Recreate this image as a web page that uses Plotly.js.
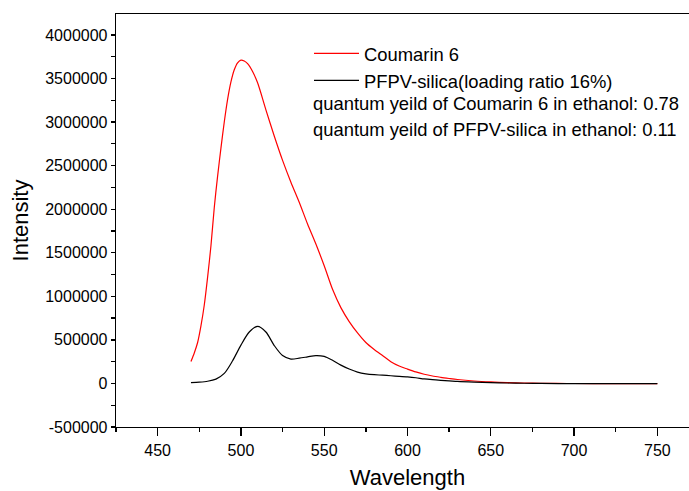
<!DOCTYPE html>
<html>
<head>
<meta charset="utf-8">
<script src="https://cdn.plot.ly/plotly-3.0.1.min.js"></script>
<style>
html, body { margin: 0; padding: 0; overflow: hidden; background: #fff; }
#chart { width: 720px; height: 491px; }
</style>
</head>
<body>
<div id="chart"></div>
<script>
// Wavelength grid (nm)
const wavelengthRed = [470,472,474,476,478,480,482,484,486,488,490,492,494,496,498,500,502,504,507,510,515,520,525,530,535,540,545,550,555,560,565,570,575,580,585,590,595,600,605,610,615,620,625,630,640,650,660,670,680,690,700,720,750];
const coumarin6 = [252000,350000,470000,660000,900000,1220000,1580000,2020000,2380000,2700000,3000000,3260000,3460000,3600000,3680000,3710000,3700000,3670000,3580000,3450000,3140000,2840000,2560000,2310000,2080000,1830000,1600000,1350000,1080000,870000,710000,580000,470000,390000,320000,250000,200000,165000,132000,105000,85000,70000,57000,45000,28000,17000,10000,5000,2000,0,-1000,-2000,-3000];

const wavelengthBlack = [470,475,480,485,490,495,500,505,510,515,520,525,530,535,540,545,550,555,560,565,570,575,580,585,590,595,600,605,610,615,620,625,630,640,650,660,670,680,700,720,750];
const pfpvSilica = [10000,15000,25000,50000,115000,260000,440000,590000,655000,590000,435000,320000,280000,290000,305000,320000,310000,265000,210000,165000,130000,110000,100000,95000,88000,82000,75000,65000,52000,43000,36000,30000,23000,15000,9000,5000,2000,0,-2000,-2500,-3000];

const seriesNames = ["Coumarin 6", "PFPV-silica(loading ratio 16%)"];
const noteLines = [
  "quantum yeild of Coumarin 6 in ethanol: 0.78",
  "quantum yeild of PFPV-silica in ethanol: 0.11"
];
const xTickVals = [450,500,550,600,650,700,750];
const yTickVals = [-500000,0,500000,1000000,1500000,2000000,2500000,3000000,3500000,4000000];

const FONT = "Liberation Sans, Arial, Helvetica, sans-serif";

const traces = [
  {x: wavelengthRed, y: coumarin6, name: seriesNames[0], type: "scatter", mode: "lines",
   line: {color: "#ff0000", width: 1.2, shape: "spline", smoothing: 0.8}},
  {x: wavelengthBlack, y: pfpvSilica, name: seriesNames[1], type: "scatter", mode: "lines",
   line: {color: "#000000", width: 1.2, shape: "spline", smoothing: 0.8}}
];

const L = 116, R = 699, T = 14, B = 427.5;
const pw = R - L, ph = B - T;
function px2x(p) { return (p - L) / pw; }
function px2y(p) { return (B - p) / ph; }

const layout = {
  width: 720, height: 491,
  margin: {l: L, r: 720 - R, t: T, b: 491 - B},
  paper_bgcolor: "#ffffff", plot_bgcolor: "#ffffff",
  font: {family: FONT, color: "#000000", size: 16},
  showlegend: true,
  legend: {
    x: px2x(309), y: px2y(35), xanchor: "left", yanchor: "top",
    bgcolor: "rgba(0,0,0,0)", borderwidth: 0, itemwidth: 45,
    font: {family: FONT, size: 18.4, color: "#000000"},
    tracegroupgap: 0
  },
  xaxis: {
    range: [425, 775], tickvals: xTickVals, ticktext: xTickVals.map(String),
    showgrid: false, zeroline: false,
    showline: true, linecolor: "#000000", linewidth: 1.3, mirror: true,
    ticks: "outside", ticklen: 8, tickwidth: 1.3, tickcolor: "#000000",
    minor: {dtick: 25, tick0: 425, ticks: "outside", ticklen: 4, tickwidth: 1.3, tickcolor: "#000000", showgrid: false},
    tickfont: {family: FONT, size: 16, color: "#000000"},
    title: {text: "Wavelength", font: {family: FONT, size: 22, color: "#000000"}, standoff: 12},
    automargin: false
  },
  yaxis: {
    range: [-500000, 4240000], tickvals: yTickVals, ticktext: yTickVals.map(String),
    showgrid: false, zeroline: false,
    showline: true, linecolor: "#000000", linewidth: 1.3, mirror: false,
    ticks: "outside", ticklen: 4, tickwidth: 1.3, tickcolor: "#000000",
    minor: {dtick: 250000, tick0: 0, ticks: "outside", ticklen: 4, tickwidth: 1.3, tickcolor: "#000000", showgrid: false},
    tickfont: {family: FONT, size: 16, color: "#000000"},
    title: {text: "Intensity", font: {family: FONT, size: 22, color: "#000000"}, standoff: 10},
    automargin: false
  },
  annotations: noteLines.map((t, i) => ({
    text: t, xref: "paper", yref: "paper",
    x: px2x(311), y: px2y(104 + i * 25.5), xanchor: "left", yanchor: "middle",
    showarrow: false, font: {family: FONT, size: 18.4, color: "#000000"}
  }))
};

Plotly.newPlot("chart", traces, layout, {displayModeBar: false, staticPlot: true});
</script>
</body>
</html>
